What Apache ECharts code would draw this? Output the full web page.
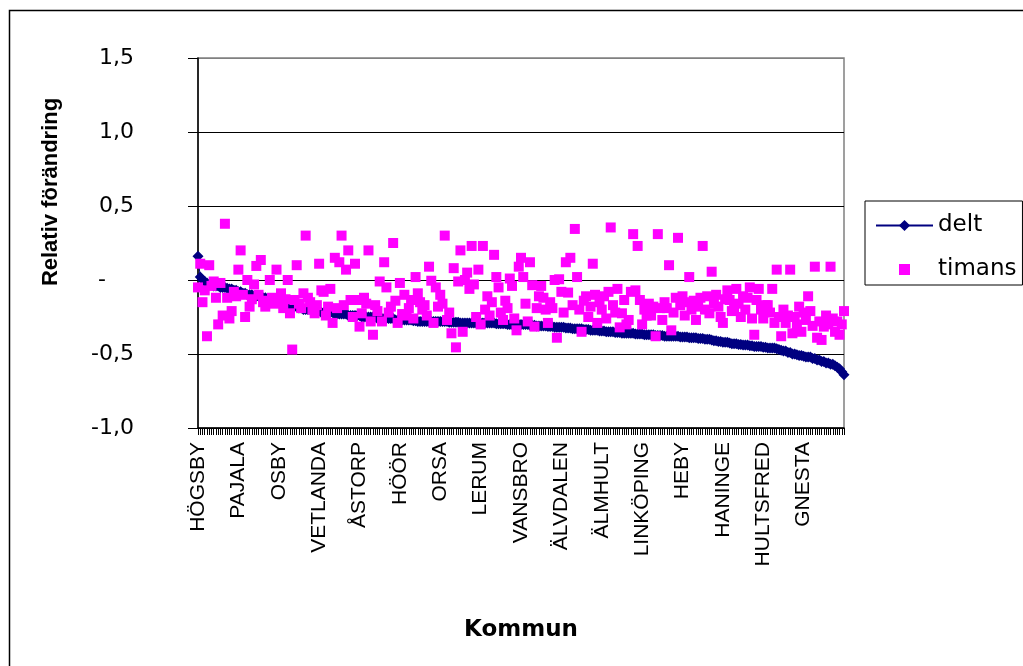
<!DOCTYPE html>
<html>
<head>
<meta charset="utf-8">
<script src="https://cdn.jsdelivr.net/npm/echarts@6/dist/echarts.min.js"></script>
<style>
html,body{margin:0;padding:0;background:#fff;}
#chart{width:1023px;height:666px;}
</style>
</head>
<body>
<div id="chart"></div>
<script>
// Labelled municipalities (one shown every 18 categories)
const labelNames = ['HÖGSBY','PAJALA','OSBY','VETLANDA','ÅSTORP','HÖÖR','ORSA','LERUM','VANSBRO','ÄLVDALEN','ÄLMHULT','LINKÖPING','HEBY','HANINGE','HULTSFRED','GNESTA'];
const categoryCount = 289;
const labelStep = 18;

const yTicks = [-1.0, -0.5, 0, 0.5, 1.0, 1.5];

const delt = [
 0.16, 0.02, 0.00, -0.01, -0.02, -0.03, -0.03, -0.04, -0.04, -0.04,
 -0.05, -0.05, -0.05, -0.055, -0.06, -0.06, -0.07, -0.07, -0.08, -0.08,
 -0.09, -0.09, -0.10, -0.10, -0.10, -0.11, -0.11, -0.11, -0.12, -0.12,
 -0.12, -0.13, -0.13, -0.14, -0.14, -0.15, -0.15, -0.15, -0.16, -0.16,
 -0.16, -0.17, -0.17, -0.18, -0.18, -0.19, -0.19, -0.20, -0.20, -0.20,
 -0.20, -0.21, -0.21, -0.21, -0.21, -0.22, -0.22, -0.22, -0.22, -0.22,
 -0.22, -0.23, -0.23, -0.23, -0.23, -0.23, -0.23, -0.24, -0.24, -0.24,
 -0.24, -0.24, -0.24, -0.25, -0.25, -0.25, -0.25, -0.25, -0.25, -0.25,
 -0.26, -0.26, -0.26, -0.26, -0.26, -0.26, -0.26, -0.26, -0.27, -0.27,
 -0.27, -0.27, -0.27, -0.27, -0.27, -0.27, -0.275, -0.275, -0.28, -0.28,
 -0.28, -0.28, -0.28, -0.28, -0.28, -0.28, -0.28, -0.28, -0.28, -0.28,
 -0.28, -0.28, -0.285, -0.285, -0.285, -0.285, -0.285, -0.29, -0.29, -0.29,
 -0.29, -0.29, -0.29, -0.29, -0.29, -0.29, -0.29, -0.29, -0.29, -0.29,
 -0.29, -0.29, -0.29, -0.295, -0.295, -0.295, -0.295, -0.295, -0.30, -0.30,
 -0.30, -0.30, -0.30, -0.30, -0.30, -0.30, -0.30, -0.30, -0.305, -0.305,
 -0.305, -0.31, -0.31, -0.31, -0.31, -0.31, -0.315, -0.315, -0.315, -0.32,
 -0.32, -0.32, -0.32, -0.32, -0.325, -0.325, -0.325, -0.33, -0.33, -0.33,
 -0.33, -0.33, -0.335, -0.335, -0.335, -0.34, -0.34, -0.34, -0.34, -0.345,
 -0.345, -0.345, -0.35, -0.35, -0.35, -0.35, -0.355, -0.355, -0.355, -0.36,
 -0.36, -0.36, -0.36, -0.36, -0.36, -0.365, -0.365, -0.365, -0.365, -0.37,
 -0.37, -0.37, -0.37, -0.37, -0.375, -0.375, -0.375, -0.375, -0.38, -0.38,
 -0.38, -0.38, -0.38, -0.38, -0.38, -0.385, -0.385, -0.385, -0.385, -0.39,
 -0.39, -0.39, -0.39, -0.395, -0.395, -0.395, -0.40, -0.40, -0.40, -0.405,
 -0.41, -0.41, -0.415, -0.415, -0.42, -0.42, -0.42, -0.425, -0.43, -0.43,
 -0.43, -0.435, -0.435, -0.44, -0.44, -0.44, -0.445, -0.445, -0.45, -0.45,
 -0.45, -0.45, -0.455, -0.455, -0.46, -0.46, -0.46, -0.46, -0.465, -0.47,
 -0.475, -0.48, -0.48, -0.49, -0.49, -0.50, -0.50, -0.505, -0.51, -0.51,
 -0.515, -0.52, -0.52, -0.52, -0.53, -0.53, -0.54, -0.54, -0.55, -0.55,
 -0.56, -0.56, -0.57, -0.57, -0.58, -0.59, -0.60, -0.62, -0.64
];

const timans = [
 -0.05, 0.11, -0.15, -0.07, -0.38, 0.10, -0.04, -0.01, -0.12, -0.30,
 -0.02, -0.24, 0.38, -0.12, -0.26, -0.21, -0.08, -0.11, 0.07, 0.20,
 -0.10, -0.25, 0.00, -0.18, -0.13, -0.03, 0.095, -0.10, 0.135, -0.15,
 -0.18, -0.14, 0.00, -0.12, -0.16, 0.07, -0.15, -0.09, -0.19, -0.13,
 0.00, -0.225, -0.47, -0.135, 0.10, -0.16, -0.19, -0.09, 0.30, -0.12,
 -0.15, -0.20, -0.225, -0.17, 0.11, -0.07, -0.08, -0.24, -0.18, -0.06,
 -0.29, 0.15, -0.19, 0.12, 0.30, -0.17, 0.07, 0.20, -0.135, -0.25,
 0.11, -0.135, -0.315, -0.225, -0.12, -0.16, 0.20, -0.28, -0.37, -0.17,
 -0.21, -0.01, -0.28, 0.12, -0.05, -0.22, -0.18, 0.25, -0.14, -0.29,
 -0.02, -0.23, -0.10, -0.24, -0.19, -0.135, -0.26, 0.02, -0.09, -0.15,
 -0.20, -0.17, -0.24, 0.09, -0.005, -0.29, -0.05, -0.18, -0.10, -0.16,
 0.30, -0.27, -0.22, -0.36, 0.08, -0.455, -0.01, 0.20, -0.35, 0.00,
 0.05, -0.06, 0.23, -0.03, -0.25, 0.07, -0.30, 0.23, -0.20, -0.11,
 -0.24, -0.15, 0.17, 0.02, -0.05, -0.22, -0.27, -0.14, -0.19, 0.01,
 -0.04, -0.26, -0.34, 0.09, 0.15, 0.02, -0.16, -0.28, 0.12, -0.035,
 -0.315, -0.19, -0.11, -0.04, -0.12, -0.20, -0.29, -0.15, -0.19, 0.00,
 -0.39, 0.005, -0.08, -0.22, 0.12, -0.085, 0.15, -0.17, 0.345, 0.02,
 -0.20, -0.35, -0.14, -0.11, -0.25, -0.18, 0.11, -0.10, -0.29, -0.15,
 -0.20, -0.11, -0.26, -0.08, 0.355, -0.17, -0.22, -0.06, -0.32, -0.225,
 -0.135, -0.30, -0.27, -0.08, 0.31, -0.07, 0.23, -0.135, -0.30, -0.20,
 -0.24, -0.16, -0.24, -0.18, -0.38, 0.31, -0.19, -0.27, -0.15, -0.19,
 0.10, -0.34, -0.22, -0.12, 0.285, -0.17, -0.11, -0.24, -0.15, 0.02,
 -0.20, -0.14, -0.27, -0.18, -0.12, 0.23, -0.20, -0.11, -0.225, 0.056,
 -0.16, -0.10, -0.18, -0.25, -0.29, -0.13, -0.07, -0.135, -0.21, -0.19,
 -0.06, -0.16, -0.25, -0.11, -0.20, -0.12, -0.05, -0.26, -0.37, -0.135,
 -0.06, -0.20, -0.26, -0.17, -0.17, -0.22, -0.06, -0.29, 0.07, -0.25,
 -0.38, -0.20, -0.29, -0.24, 0.07, -0.36, -0.25, -0.30, -0.18, -0.35,
 -0.22, -0.27, -0.11, -0.21, -0.31, 0.09, -0.39, -0.28, -0.405, -0.315,
 -0.24, -0.30, 0.09, -0.26, -0.35, -0.28, -0.37, -0.30, -0.21
];

const categories = [];
for (let i = 0; i < categoryCount; i++) {
  const k = i / labelStep;
  categories.push(i % labelStep === 0 && k < labelNames.length ? labelNames[k] : '');
}

// legend icon for timans: small square centred in the 57x14 icon box
const squareIcon = 'path://M0,0L0.01,0L0,0.01Z M57,14L56.99,14L57,13.99Z M23,1.5L34,1.5L34,12.5L23,12.5Z';

const chart = echarts.init(document.getElementById('chart'), null, {renderer: 'canvas'});
const option = {
  backgroundColor: '#ffffff',
  animation: false,
  grid: {
    left: 198, right: 179, top: 58, bottom: 238,
    show: true, borderColor: '#808080', borderWidth: 1.5, backgroundColor: 'transparent'
  },
  legend: {
    orient: 'vertical',
    left: 865, top: 201,
    padding: [13, 6, 4, 10],
    itemGap: 21,
    itemWidth: 57, itemHeight: 14,
    itemTextGap: 6,
    borderColor: '#000', borderWidth: 1,
    textStyle: {fontFamily: 'DejaVu Sans', fontSize: 23, color: '#000'},
    data: [{name: 'delt'}, {name: 'timans', icon: squareIcon}]
  },
  xAxis: {
    type: 'category',
    data: categories,
    boundaryGap: false,
    name: 'Kommun',
    nameLocation: 'middle',
    nameGap: 191,
    nameTextStyle: {fontFamily: 'DejaVu Sans', fontWeight: 'bold', fontSize: 23, color: '#000'},
    axisLine: {show: true, onZero: false, lineStyle: {color: '#000', width: 1.5}},
    axisTick: {show: true, interval: 0, inside: false, length: 7, lineStyle: {color: '#000', width: 1}},
    axisLabel: {
      interval: labelStep - 1, rotate: 90, margin: 14,
      fontFamily: 'Liberation Sans, Arial', fontSize: 21, color: '#000'
    },
    splitLine: {show: false}
  },
  yAxis: {
    type: 'value',
    min: yTicks[0], max: yTicks[yTicks.length - 1], interval: 0.5,
    axisLine: {show: true, onZero: false, lineStyle: {color: '#000', width: 1.5}},
    axisTick: {show: true, inside: false, length: 10, lineStyle: {color: '#000', width: 1}},
    axisLabel: {
      margin: 64,
      fontFamily: 'DejaVu Sans', fontSize: 22, color: '#000',
      formatter: function (v) {
        if (Math.abs(v) < 1e-9) return '-\u2007\u2007';
        return v.toFixed(1).replace('.', ',');
      }
    },
    splitLine: {show: true, lineStyle: {color: ['#000', '#000', '#000', '#000', '#000', '#808080'], width: 1}}
  },
  graphic: [
    {
      type: 'rect', silent: true, z: -1,
      shape: {x: 9.5, y: 10.5, width: 1100, height: 800},
      style: {fill: null, stroke: '#000', lineWidth: 1.5}
    },
    {
      type: 'text', silent: true,
      x: 51, y: 192, rotation: Math.PI / 2,
      style: {
        text: 'Relativ förändring', fill: '#000',
        font: 'bold 22px "Liberation Sans", Arial',
        align: 'center', verticalAlign: 'middle'
      }
    }
  ],
  series: [
    {
      name: 'delt', type: 'line', data: delt,
      showSymbol: true, showAllSymbol: true,
      symbol: 'diamond', symbolSize: 11,
      lineStyle: {color: '#000080', width: 1},
      itemStyle: {color: '#000080'},
      z: 2
    },
    {
      name: 'timans', type: 'scatter', data: timans,
      symbol: 'rect', symbolSize: 10,
      itemStyle: {color: '#ff00ff', opacity: 1},
      z: 3
    }
  ]
};
chart.setOption(option);
</script>
</body>
</html>
